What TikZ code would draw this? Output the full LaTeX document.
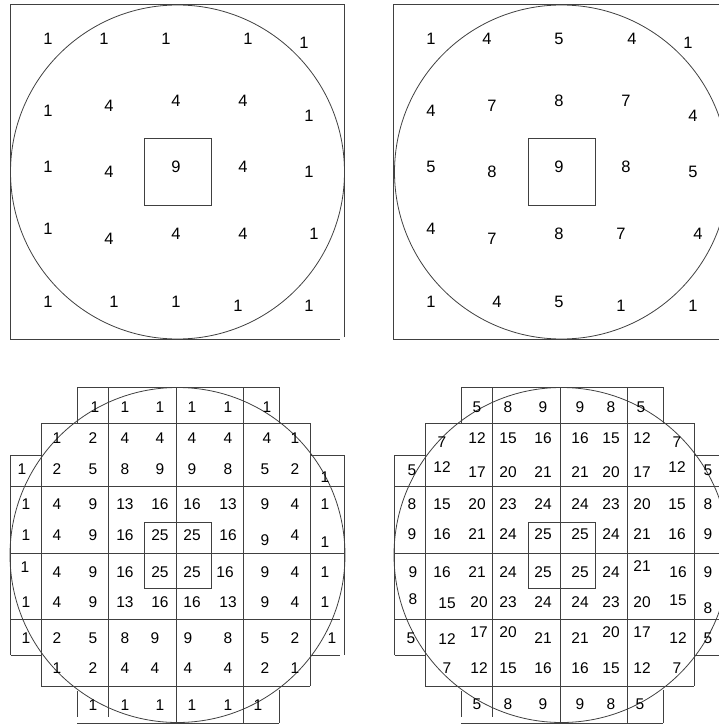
\documentclass[tikz,border=0pt]{standalone}
\usepackage{fontspec}
\setmainfont{Liberation Sans}
\begin{document}
\begin{tikzpicture}[x=1pt,y=-1pt,
  ln/.style={draw=black!75, line width=0.8pt},
  big/.style={font=\fontsize{16.5}{18}\selectfont, inner sep=0pt},
  sm/.style={font=\fontsize{15.5}{17}\selectfont, inner sep=0pt}]
\useasboundingbox (0,0) rectangle (719,725);
\clip (0,0) rectangle (719,725);

% ---------- top-left panel ----------
\draw[ln] (344,337) -- (344,4) -- (10,4) -- (10,339) -- (340,339);
\draw[ln] (177.5,172) circle (167);
\draw[ln] (144,138) rectangle (211,205);
\foreach \x/\y/\t [count=\i] in {
  48/39/1, 104/39/1, 166/39/1, 248/39/1, 304/43/1,
  48/111/1, 109/106/4, 176/101/4, 243/101/4, 309/116/1,
  48/167/1, 109/172/4, 176/167/9, 243/167/4, 309/172/1,
  48/229/1, 109/239/4, 176/234/4, 243/234/4, 314/234/1,
  48/302/1, 114/302/1, 176/302/1, 238/306/1, 309/306/1}
  \node[big] (tl\i) at (\x,\y) {\t};

% ---------- top-right panel ----------
\draw[ln] (728,4) -- (393,4) -- (393,339) -- (728,339);
\draw[ln] (561.5,172) circle (167);
\draw[ln] (528,138) rectangle (595,205);
\foreach \x/\y/\t [count=\i] in {
  431/39/1, 487/39/4, 559/39/5, 632/39/4, 688/43/1,
  431/111/4, 492/106/7, 559/101/8, 626/101/7, 693/116/4,
  431/167/5, 492/172/8, 559/167/9, 626/167/8, 693/172/5,
  431/229/4, 492/239/7, 559/234/8, 621/234/7, 698/234/4,
  431/302/1, 497/302/4, 559/302/5, 621/306/1, 693/306/1}
  \node[big] (tr\i) at (\x,\y) {\t};

% ---------- bottom grids (left and right) ----------
\foreach \s in {0,384}{
  \begin{scope}[xshift=\s pt]
    \draw[ln] (77,387) -- (279,387);
    \draw[ln] (41,423) -- (310,423);
    \draw[ln] (10.7,455) -- (41,455) (310,455) -- (344,455);
    \draw[ln] (10.7,486) -- (344,486);
    \draw[ln] (10.7,553) -- (344,553);
    \draw[ln] (10.7,619) -- (340,619);
    \draw[ln] (10.7,655) -- (41,655) (310,655) -- (340,655);
    \draw[ln] (41,686) -- (310,686);
    \draw[ln] (77,723) -- (279,723);
    \draw[ln] (10.7,455) -- (10.7,655);
    \draw[ln] (41,423) -- (41,686);
    \draw[ln] (77,387) -- (77,423) (77,691) -- (77,717);
    \draw[ln] (108,387) -- (108,717);
    \draw[ln] (176,387) -- (176,723);
    \draw[ln] (243,387) -- (243,723);
    \draw[ln] (279,387) -- (279,423) (279,690) -- (279,723);
    \draw[ln] (310,423) -- (310,686);
    \draw[ln] (344,455) -- (344,655);
    \draw[ln] (144,522) rectangle (211,588);
    \draw[ln] (177.5,555) circle (167.5);
  \end{scope}
}

% ---------- bottom-left numbers ----------
\foreach \x/\y/\t [count=\i] in {
  95/407/1, 125/407/1, 160/407/1, 192/407/1, 228/407/1, 267/407/1,
  57/438/1, 93/438/2, 125/438/4, 160/438/4, 192/438/4, 228/438/4, 267/438/4, 295/438/1,
  22/469/1, 57/469/2, 93/469/5, 125/469/8, 160/469/9, 192/469/9, 228/469/8, 265/469/5, 295/469/2, 325/477/1,
  26/504/1, 57/504/4, 93/504/9, 125/504/13, 160/504/16, 192/504/16, 228/504/13, 265/504/9, 295/504/4, 325/504/1,
  26/535/1, 57/535/4, 93/535/9, 125/535/16, 160/535/25, 192/535/25, 228/535/16, 265/540/9, 295/535/4, 325/542/1,
  25/567/1, 57/572/4, 93/572/9, 125/572/16, 160/572/25, 192/572/25, 225/572/16, 265/572/9, 295/572/4, 325/572/1,
  26/602/1, 57/602/4, 93/602/9, 125/602/13, 160/602/16, 192/602/16, 228/602/13, 265/602/9, 295/602/4, 325/602/1,
  26/638/1, 57/638/2, 93/638/5, 125/638/8, 155/638/9, 188/638/9, 228/638/8, 265/638/5, 295/638/2, 332/638/1,
  57/668/1, 93/668/2, 125/668/4, 155/668/4, 188/668/4, 228/668/4, 265/668/2, 295/668/1,
  93/705/1, 125/705/1, 160/705/1, 192/705/1, 228/705/1, 258/705/1}
  \node[sm] (bl\i) at (\x,\y) {\t};

% ---------- bottom-right numbers ----------
\foreach \x/\y/\t [count=\i] in {
  477/407/5, 508/407/8, 543/407/9, 580/407/9, 611/407/8, 641/407/5,
  442/442/7, 477/438/12, 508/438/15, 543/438/16, 580/438/16, 611/438/15, 642/438/12, 677/442/7,
  412/470/5, 442/467/12, 477/472/17, 508/472/20, 543/472/21, 580/472/21, 611/472/20, 642/472/17, 677/467/12, 708/470/5,
  412/504/8, 442/504/15, 477/504/20, 508/504/23, 543/504/24, 580/504/24, 611/504/23, 642/504/20, 677/504/15, 708/504/8,
  412/534/9, 442/534/16, 477/534/21, 508/534/24, 543/534/25, 580/534/25, 611/534/24, 642/534/21, 677/534/16, 708/534/9,
  413/572/9, 442/572/16, 477/572/21, 508/572/24, 543/572/25, 580/572/25, 611/572/24, 642/566/21, 678/572/16, 708/572/9,
  413/599/8, 447/603/15, 479/602/20, 508/602/23, 543/602/24, 580/602/24, 611/602/23, 642/602/20, 678/600/15, 708/608/8,
  411/638/5, 447/639/12, 479/632/17, 508/632/20, 543/638/21, 580/638/21, 611/632/20, 642/632/17, 678/638/12, 708/638/5,
  447/668/7, 479/668/12, 508/668/15, 543/668/16, 580/668/16, 611/668/15, 642/668/12, 677/668/7,
  477/704/5, 508/704/8, 543/704/9, 580/704/9, 611/704/8, 640/704/5}
  \node[sm] (br\i) at (\x,\y) {\t};
\end{tikzpicture}
\end{document}
